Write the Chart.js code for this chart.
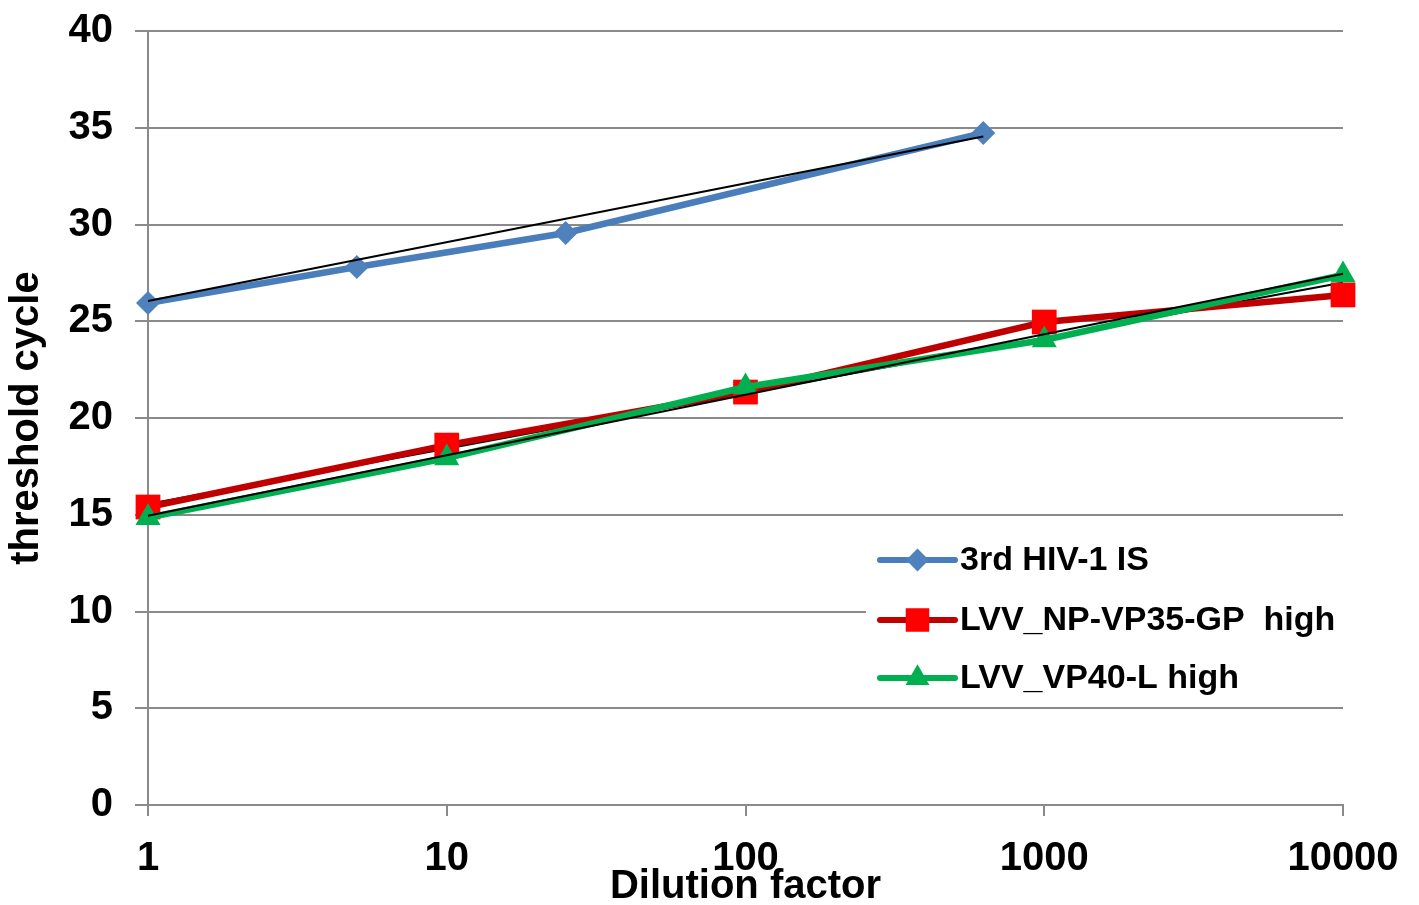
<!DOCTYPE html>
<html><head><meta charset="utf-8">
<script src="https://cdn.jsdelivr.net/npm/chart.js@4.4.1/dist/chart.umd.min.js"></script>
<style>html,body{margin:0;padding:0;background:#fff}#wrap{width:1419px;height:905px}</style>
</head><body><div id="wrap"><canvas id="c" width="1419" height="905"></canvas></div>
<script>
// ---- data ----
const seriesNames = ['3rd HIV-1 IS', 'LVV_NP-VP35-GP  high', 'LVV_VP40-L high'];
const hivDilutions = [1, 5, 25, 625];
const hivCt = [25.94, 27.8, 29.56, 34.73];
const lvvDilutions = [1, 10, 100, 1000, 10000];
const npCt = [15.4, 18.6, 21.34, 24.96, 26.36];
const vp40Ct = [14.85, 17.93, 21.6, 24.03, 27.39];
// trendline end points
const hivTrendX = [1, 625];
const hivTrendCt = [26.05, 34.55];
const lvvTrendX = [1, 10000];
const npTrendCt = [15.55, 27.0];
const vp40TrendCt = [14.95, 27.45];
const xTickValues = [1, 10, 100, 1000, 10000];
const yMin = 0, yMax = 40, yStep = 5;

const FONT = "'Liberation Sans', Arial, sans-serif";
const GRID = '#8a8a8a';
const colors = {
  hivLine: '#4A7EBB', hivMark: '#4F81BD',
  npLine: '#C00000', npMark: '#FF0000',
  vpLine: '#00B050', vpMark: '#00B050'
};

function pts(xs, ys) { return xs.map((x, i) => ({x: x, y: ys[i]})); }

const datasets = [
  {label: 'trend1', data: pts(hivTrendX, hivTrendCt), borderColor: '#000', borderWidth: 2, pointRadius: 0, order: 0, clip: false},
  {label: seriesNames[0], data: pts(hivDilutions, hivCt), borderColor: colors.hivLine, backgroundColor: colors.hivMark,
   borderWidth: 6.5, pointStyle: 'rectRot', pointRadius: 12, pointBorderWidth: 0, pointBackgroundColor: colors.hivMark, order: 1, clip: false},
  {label: 'trend3', data: pts(lvvTrendX, vp40TrendCt), borderColor: '#000', borderWidth: 2, pointRadius: 0, order: 0, clip: false},
  {label: seriesNames[2], data: pts(lvvDilutions, vp40Ct), borderColor: colors.vpLine, backgroundColor: colors.vpMark,
   borderWidth: 6.5, pointStyle: 'triangle', pointRadius: 14.5, pointBorderWidth: 0, pointBackgroundColor: colors.vpMark, order: 1, clip: false},
  {label: seriesNames[1], data: pts(lvvDilutions, npCt), borderColor: colors.npLine, backgroundColor: colors.npMark,
   borderWidth: 6.5, pointStyle: 'rect', pointRadius: 17.5, pointBorderWidth: 0, pointBackgroundColor: colors.npMark, order: 2, clip: false},
  {label: 'trend2', data: pts(lvvTrendX, npTrendCt), borderColor: '#000', borderWidth: 2, pointRadius: 0, order: 3, clip: false}
];

const legendPlugin = {
  id: 'insideLegend',
  afterDatasetsDraw(chart) {
    const ctx = chart.ctx;
    const ca = chart.chartArea;
    ctx.save();
    ctx.fillStyle = '#fff';
    ctx.fillRect(ca.right - 477, ca.bottom - 270, 480, 96);
    ctx.restore();
    const items = [seriesNames[0], seriesNames[1], seriesNames[2]].map(n => chart.data.datasets.find(d => d.label === n));
    const ys = [ca.bottom - 245, ca.bottom - 185, ca.bottom - 127];
    const x0 = ca.right - 463, x1 = ca.right - 388;
    items.forEach((ds, i) => {
      const y = ys[i];
      ctx.save();
      ctx.strokeStyle = ds.borderColor;
      ctx.lineWidth = 6;
      ctx.lineCap = 'round';
      ctx.beginPath(); ctx.moveTo(x0, y); ctx.lineTo(x1, y); ctx.stroke();
      ctx.fillStyle = ds.pointBackgroundColor;
      ctx.strokeStyle = ds.pointBackgroundColor;
      Chart.helpers.drawPoint(ctx, {pointStyle: ds.pointStyle, radius: ds.pointRadius * 0.95, borderWidth: 0, rotation: 0}, (x0 + x1) / 2, y);
      ctx.fillStyle = '#000';
      ctx.font = 'bold 34px ' + FONT;
      ctx.textBaseline = 'middle';
      ctx.textAlign = 'left';
      ctx.fillText(ds.label, x1 + 5, y + 1);
      ctx.restore();
    });
  }
};

new Chart(document.getElementById('c'), {
  type: 'line',
  data: {datasets: datasets},
  options: {
    responsive: false,
    animation: false,
    devicePixelRatio: 1,
    layout: {padding: {top: 31, right: 76, left: 0, bottom: 0}},
    plugins: {legend: {display: false}, tooltip: {enabled: false}},
    elements: {line: {tension: 0}},
    scales: {
      x: {
        type: 'logarithmic', min: 1, max: 10000,
        afterBuildTicks: s => { s.ticks = xTickValues.map(v => ({value: v})); },
        afterFit: s => { s.height = 100; s.paddingLeft = 0; s.paddingRight = 0; },
        grid: {drawOnChartArea: false, drawTicks: true, tickLength: 11, color: GRID, lineWidth: 2},
        border: {display: true, color: GRID, width: 2},
        ticks: {autoSkip: false, maxRotation: 0, padding: 19, color: '#000',
          font: {family: FONT, size: 40, weight: 'bold'},
          callback: v => String(v)},
        title: {display: true, text: 'Dilution factor', color: '#000',
          font: {family: FONT, size: 40, weight: 'bold', lineHeight: 1}, padding: {top: 0, bottom: -2}}
      },
      y: {
        min: yMin, max: yMax,
        afterFit: s => { s.width = 148; s.paddingTop = 0; s.paddingBottom = 0; },
        grid: {color: GRID, lineWidth: 2, tickLength: 13, drawTicks: true},
        border: {display: true, color: GRID, width: 2},
        ticks: {stepSize: yStep, padding: 22, color: '#000',
          font: {family: FONT, size: 40, weight: 'bold'}},
        title: {display: true, text: 'threshold cycle', color: '#000',
          font: {family: FONT, size: 40, weight: 'bold', lineHeight: 1.2}, padding: {top: 3, bottom: 0}}
      }
    }
  },
  plugins: [legendPlugin]
});
</script></body></html>
